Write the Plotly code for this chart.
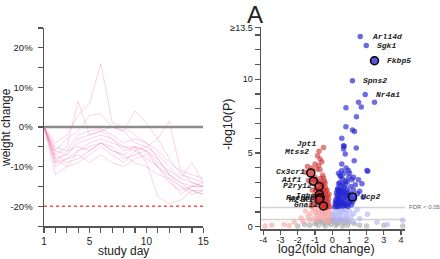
import plotly.graph_objects as go

# ---------------- Left panel data: weight change (%) by study day ----------------
days = list(range(1, 16))
w01 = [0, -4, -2, 3, 6, 16, 1, 0, -2, -4, -8, -12, -14, -15, -15]
w02 = [0, -7, -5, 6.5, -2, -1, -3, -5, -5, -6, -10, -13, -15, -17, -16]
w03 = [0, -6, -3, -1, 3, 3.3, 0, -1, -4, -5, -7, -10, -13, -14, -15]
w04 = [0, -8, -7, -3, -2, -1, 0, -1, 4, 1, -3, -8, -12, -13, -14]
w05 = [0, -9, -8, -6, -4, -3, -4, -5, -6, -5, -3, 1.5, -11, -14, -15]
w06 = [0, -8, -10, -6, -5, -4, -6, -7, -5, -9, -17.5, -19.3, -18.5, -16, -16]
w07 = [0, -12, -10, -9, -7, -5, -7, -9, -6, -8, -10, -12, -15, -16, -17]
w08 = [0, -5, -6, -2, -1, -0.5, -2, -4, -3, -4, -6, -9, -11, -12, -13]
w09 = [0, -7, -9, -8, -6, -4, -5, -8, -7, -6, -9, -11, -13, -9, -14]
w10 = [0, -10, -8, -7, -9, -7, -9, -10, -8, -7, -10, -14, -16, -15, -14]
w11 = [0, -6, -7, -4, -3, -2, -3, -6, -5, -6, -8, -12, -14, -16, -17]
w12 = [0, -9, -6, -5, -6, -4, -6, -7, -9, -10, -12, -13, -17, -15, -15]
weight_series = [w01, w02, w03, w04, w05, w06, w07, w08, w09, w10, w11, w12]
left_yticks = [-25, -20, -15, -10, -5, 0, 5, 10, 15, 20, 25]
left_ylabels = ["", "-20%", "", "-10%", "", "0%", "", "10%", "", "20%", ""]
left_xlabels = ["1", "", "", "", "5", "", "", "", "", "10", "", "", "", "", "15"]

# ---------------- Right panel data: volcano plot ----------------
up_x = [1.53, 2.46, 0.80, 1.69, 1.41, 0.80, 1.18, 1.30, 0.56, 0.70, 0.66, 1.40, 1.28, 0.81,
        0.37, 0.70, 1.01, 2.07, 0.50, 0.97, 1.15, 1.53, 0.37, 0.76, 1.09, 0.31, 0.66, 0.95,
        1.24, 1.47, 0.66, 0.76, 0.56, 0.95, 0.47, 2.02, 1.24, 1.73,
        0.15, 0.22, 0.30, 0.38, 0.45, 0.52, 0.60, 0.68, 0.75, 0.82, 0.90, 0.20, 0.28, 0.35,
        0.42, 0.50, 0.58, 0.65, 0.72, 0.80, 0.88, 0.97, 0.25, 0.33, 0.40, 0.48, 0.55, 0.62,
        0.70, 0.78, 0.86, 1.05, 1.12, 1.20, 1.30, 0.45, 0.60, 0.55, 0.88, 1.35, 0.18, 0.26,
        0.34, 0.41, 0.57, 0.64, 0.73, 0.92, 1.00, 0.30, 0.38, 0.52, 0.85, 1.10, 1.60, 1.80]
up_y = [8.43, 8.43, 8.07, 8.11, 7.46, 6.77, 6.55, 6.45, 6.00, 5.45, 5.27, 5.33, 4.48, 3.99,
        3.63, 3.63, 3.63, 3.77, 3.41, 3.36, 3.18, 3.18, 2.91, 2.87, 2.73, 2.51, 2.42, 2.36,
        2.50, 2.24, 5.49, 4.93, 4.26, 3.81, 3.47, 3.81, 3.36, 2.92,
        1.35, 1.50, 1.40, 1.60, 1.45, 1.70, 1.40, 1.55, 1.80, 1.45, 1.60, 1.80, 2.00, 1.90,
        2.10, 1.95, 2.20, 2.05, 2.30, 2.10, 1.95, 2.15, 2.30, 2.60, 2.45, 2.75, 2.55, 2.90,
        2.65, 3.10, 2.55, 1.85, 1.50, 1.70, 1.90, 3.00, 3.25, 3.80, 3.05, 2.85, 1.60, 1.70,
        1.35, 1.80, 1.60, 1.75, 1.45, 1.38, 1.65, 2.15, 2.35, 2.35, 2.25, 2.05, 2.40, 2.00]

down_x = [-0.85, -0.70, -0.99, -0.77, -1.43, -1.18, -0.89, -0.70, -1.57, -0.99, -0.70, -0.41,
          -1.38, -0.60, -0.55, -0.45, -1.10,
          -0.15, -0.22, -0.30, -0.38, -0.45, -0.52, -0.60, -0.68, -0.75, -0.82, -0.90, -1.00,
          -0.20, -0.28, -0.35, -0.42, -0.50, -0.58, -0.65, -0.72, -0.80, -0.88, -0.95, -1.05,
          -0.30, -0.40, -0.48, -0.55, -0.62, -0.70, -0.85, -0.25, -0.33, -0.55, -0.63, -0.78,
          -1.12, -1.20, -0.18, -0.42, -0.92, -1.15, -0.36, -0.50]
down_y = [4.82, 4.60, 4.26, 4.15, 4.08, 3.99, 3.92, 3.86, 3.70, 3.36, 3.25, 2.96,
          3.14, 4.40, 3.50, 3.10, 3.20,
          1.35, 1.55, 1.40, 1.70, 1.50, 1.80, 1.45, 1.65, 1.90, 1.50, 1.70, 1.55,
          1.90, 2.10, 1.95, 2.25, 2.05, 2.35, 2.15, 2.50, 2.30, 2.05, 2.40, 2.10,
          2.50, 2.70, 2.55, 2.85, 2.65, 3.00, 3.05, 1.70, 1.30, 1.60, 1.90, 1.75,
          1.80, 1.45, 2.20, 1.35, 2.60, 2.50, 2.40, 3.30]

ns_down_x = [-0.10, -0.20, -0.30, -0.40, -0.50, -0.60, -0.70, -0.80, -0.90, -1.00, -1.10, -1.25,
             -1.40, -1.55, -0.15, -0.25, -0.35, -0.45, -0.55, -0.65, -0.75, -0.85, -0.95, -1.15,
             -1.30, -1.80, -2.20, -2.80, -3.50, -1.70, -0.05, -0.12, -0.42, -3.90, -2.50]
ns_down_y = [0.60, 0.90, 0.70, 1.10, 0.80, 1.20, 0.65, 1.00, 0.75, 1.15, 0.55, 0.90,
             0.70, 1.05, 1.15, 0.50, 0.95, 0.60, 1.00, 0.85, 1.20, 0.50, 0.95, 1.25,
             0.45, 0.60, 0.30, 0.15, 0.10, 0.35, 0.90, 0.40, 0.40, 0.05, 0.08]

ns_up_x = [0.10, 0.20, 0.30, 0.40, 0.50, 0.60, 0.70, 0.80, 0.90, 1.00, 1.10, 1.25, 0.15, 0.25,
           0.35, 0.45, 0.55, 0.65, 0.75, 0.85, 1.60, 2.05, 1.45, 2.60, 4.10, 3.20, 0.05, 1.20]
ns_up_y = [0.60, 0.90, 0.50, 1.10, 0.75, 1.20, 0.60, 0.95, 0.45, 1.05, 0.70, 0.90, 1.20, 0.40,
           0.80, 0.50, 1.00, 0.40, 1.15, 0.70, 0.55, 0.85, 1.15, 0.30, 0.45, 0.15, 0.80, 0.35]

gray_x = [-0.9, -0.7, -0.5, -0.3, -0.1, 0.1, 0.3, 0.5, 0.7, 0.9, -0.8, -0.6, -0.4, -0.2, 0.0,
          0.2, 0.4, 0.6, 0.8, -1.0, 1.0, -1.3, 1.3, -0.15, 0.15, 1.6, -1.6, 2.0, -2.0, 3.0, 4.1]
gray_y = [0.30, 0.45, 0.20, 0.40, 0.15, 0.35, 0.20, 0.45, 0.25, 0.10, 0.10, 0.35, 0.05, 0.30, 0.45,
          0.10, 0.30, 0.05, 0.40, 0.20, 0.30, 0.10, 0.20, 0.50, 0.50, 0.10, 0.15, 0.05, 0.05, 0.10, 0.05]

# labelled genes
top_genes = ["Arl14d", "Sgk1", "Spns2", "Nr4a1"]
top_x = [1.63, 1.98, 1.18, 1.92]
top_y = [12.9, 12.28, 9.9, 8.96]
plain_down_genes = ["Jpt1", "Mtss2"]
plain_down_x = [-0.50, -0.76]
plain_down_y = [5.38, 5.11]
ring_up_genes = ["Fkbp5", "Ucp2"]
ring_up_x = [2.46, 1.18]
ring_up_y = [11.25, 2.02]
ring_down_genes = ["Cx3cr1", "Aif1", "P2ry12", "Igbm", "Racgap", "H2-K1", "Gna12"]
ring_down_x = [-1.24, -1.09, -0.76, -0.74, -0.70, -0.74, -0.51]
ring_down_y = [3.65, 3.09, 2.73, 2.18, 1.97, 1.84, 1.41]

right_yticks = list(range(0, 14)) + [13.5]
right_ylabels = ["0", "", "", "", "", "5", "", "", "", "", "10", "", "", "", "\u226513.5"]
right_xticks = [-4, -3, -2, -1, 0, 1, 2, 3, 4]
fdr_level = 1.3
low_level = 0.5

# ---------------- Figure ----------------
fig = go.Figure()
line_col = "rgba(240,110,170,0.3)"
for s in weight_series:
    fig.add_trace(go.Scatter(x=days, y=s, mode="lines", line=dict(color=line_col, width=1),
                             xaxis="x", yaxis="y", showlegend=False, hoverinfo="skip"))

def pts(x, y, color, size=5.5, line=None):
    return go.Scatter(x=x, y=y, mode="markers", xaxis="x2", yaxis="y2", showlegend=False,
                      marker=dict(color=color, size=size,
                                  line=line if line else dict(width=0)),
                      cliponaxis=False)

RED = "rgba(205,45,45,0.6)"
BLUE = "rgba(35,35,210,0.65)"
fig.add_trace(pts(gray_x, gray_y, "rgba(165,165,165,0.6)"))
fig.add_trace(pts(ns_down_x, ns_down_y, "rgba(245,165,165,0.6)"))
fig.add_trace(pts(ns_up_x, ns_up_y, "rgba(175,175,245,0.6)"))
fig.add_trace(pts(down_x, down_y, RED))
fig.add_trace(pts(up_x, up_y, BLUE))
fig.add_trace(pts(top_x, top_y, "rgba(80,80,220,0.85)"))
fig.add_trace(pts(plain_down_x, plain_down_y, RED))
fig.add_trace(pts(ring_down_x, ring_down_y, "rgba(205,45,45,0.75)", size=8,
                  line=dict(color="black", width=1.5)))
fig.add_trace(pts(ring_up_x, ring_up_y, "rgba(70,70,215,0.9)", size=8,
                  line=dict(color="black", width=1.5)))

shapes = [
    dict(type="line", xref="x", yref="y", x0=1, x1=15, y0=0, y1=0,
         line=dict(color="#8c8c8c", width=2.5)),
    dict(type="line", xref="x", yref="y", x0=1, x1=15, y0=-20, y1=-20,
         line=dict(color="#ff4d4d", width=1.5, dash="dot")),
    dict(type="line", xref="x2", yref="y2", x0=-4.13, x1=4.23, y0=fdr_level, y1=fdr_level,
         line=dict(color="#d2d2d2", width=1.5), layer="below"),
    dict(type="line", xref="x2", yref="y2", x0=-4.13, x1=4.2, y0=low_level, y1=low_level,
         line=dict(color="#d2d2d2", width=1.5), layer="below"),
]

gene_font = dict(family="Liberation Mono, Courier New, monospace", size=8, color="#222",
                 weight="bold", style="italic")
ann = []
# label placements (pixel offsets from each point)
top_off = [(10, 0), (9, 0), (9, 0), (9, 0)]
for g, x, y, (dx, dy) in zip(top_genes, top_x, top_y, top_off):
    ann.append(dict(x=x, y=y, xref="x2", yref="y2", text=g, showarrow=False, xanchor="left",
                    xshift=dx, yshift=dy, font=gene_font))
for g, x, y, (dx, dy) in zip(ring_up_genes, ring_up_x, ring_up_y, [(10, 0), (7, 0)]):
    ann.append(dict(x=x, y=y, xref="x2", yref="y2", text=g, showarrow=False, xanchor="left",
                    xshift=dx, yshift=dy, font=gene_font))
for g, x, y, (dx, dy) in zip(plain_down_genes, plain_down_x, plain_down_y, [(-6, 4), (-8, 0)]):
    ann.append(dict(x=x, y=y, xref="x2", yref="y2", text=g, showarrow=False, xanchor="right",
                    xshift=dx, yshift=dy, font=gene_font))
down_off = [(-4, 1), (-10, 2), (-5, 1), (-2, -1), (-3, 0), (-4, 0), (-3, 1)]
for g, x, y, (dx, dy) in zip(ring_down_genes, ring_down_x, ring_down_y, down_off):
    ann.append(dict(x=x, y=y, xref="x2", yref="y2", text=g, showarrow=False, xanchor="right",
                    xshift=dx, yshift=dy, font=gene_font))

base_font = dict(family="Liberation Sans, Arial, sans-serif", color="#222")
def pann(px, py, text, size, angle=0, anchor="center", color=None):
    f = dict(size=size, **base_font)
    if color:
        f["color"] = color
    return dict(x=px / 440, y=(259 - py) / 259, xref="paper", yref="paper", text=text,
                showarrow=False, textangle=angle, xanchor=anchor, yanchor="middle", font=f)

ann += [
    pann(6, 128, "weight change", 12, angle=-90),
    pann(123, 251, "study day", 12),
    pann(228, 125, "-log10(P)", 12.5, angle=-90),
    pann(326, 249, "log2(fold change)", 12.5),
    pann(255, 14, "A", 24),
    pann(407, 207, "FDR < 0.05", 6, anchor="left", color="#666"),
]

axis_common = dict(showline=True, linecolor="#555", linewidth=1.5, ticks="outside",
                   tickcolor="#555", tickwidth=1.2, showgrid=False, zeroline=False,
                   fixedrange=True, automargin=False)

fig.update_layout(
    width=440, height=259, margin=dict(l=0, r=0, t=0, b=0, autoexpand=False),
    paper_bgcolor="white", plot_bgcolor="white", showlegend=False,
    font=dict(family="Liberation Sans, Arial, sans-serif", color="#222"),
    xaxis=dict(domain=[44 / 440, 203.3 / 440], range=[1, 15], anchor="y", ticklen=5,
               tickmode="array", tickvals=days, ticktext=left_xlabels,
               tickfont=dict(size=10), **axis_common),
    yaxis=dict(domain=[(259 - 226.1) / 259, (259 - 27.9) / 259], range=[-25, 25], anchor="x",
               ticklen=5, ticklabelstandoff=3,
               tickmode="array", tickvals=left_yticks, ticktext=left_ylabels,
               tickfont=dict(size=9.5), **axis_common),
    xaxis2=dict(domain=[261 / 440, 405 / 440], range=[-4.13, 4.23], anchor="y2",
                ticklen=4, ticklabelstandoff=-3,
                tickmode="array", tickvals=right_xticks, ticktext=[str(v) for v in right_xticks],
                tickfont=dict(size=9), **axis_common),
    yaxis2=dict(domain=[(259 - 229.3) / 259, (259 - 26.8) / 259], range=[-0.17, 13.55], anchor="x2",
                ticklen=5, tickmode="array", tickvals=right_yticks, ticktext=right_ylabels,
                tickfont=dict(size=9), **axis_common),
    shapes=shapes, annotations=ann,
)

fig.write_html("out.html", config={"staticPlot": True},
               post_script="document.body.style.margin='0';document.body.style.padding='0';")
